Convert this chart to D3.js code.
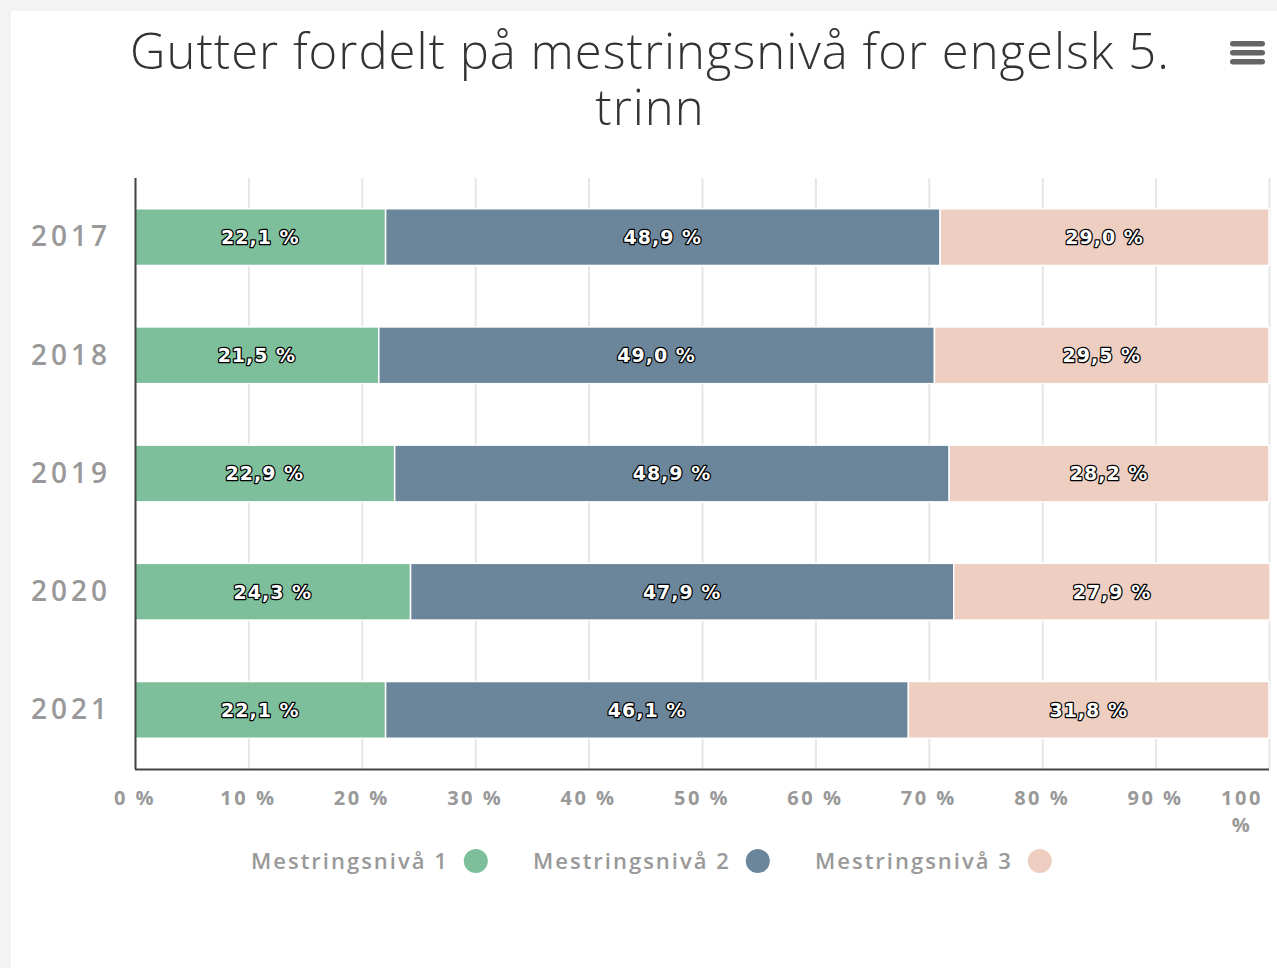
<!DOCTYPE html>
<html>
<head>
<meta charset="utf-8">
<script src="https://cdn.jsdelivr.net/npm/d3@7"></script>
<style>
  body { margin: 0; background: #f3f3f3; }
  #chart { position: absolute; left: 11px; top: 11px; width: 1266px; height: 957px; background: #fff; }
  svg { display: block; }
</style>
</head>
<body>
<div id="chart"></div>
<script>
// data
const years = ['2017', '2018', '2019', '2020', '2021']
const niva1 = [22.1, 21.5, 22.9, 24.3, 22.1]
const niva2 = [48.9, 49.0, 48.9, 47.9, 46.1]
const niva3 = [29.0, 29.5, 28.2, 27.9, 31.8]
const seriesNames = ['Mestringsnivå 1', 'Mestringsnivå 2', 'Mestringsnivå 3']
const seriesColors = ['#7dbe9b', '#6b869b', '#edcec1']
const xTicks = [0, 10, 20, 30, 40, 50, 60, 70, 80, 90, 100]
const title = ['Gutter fordelt på mestringsnivå for engelsk 5.', 'trinn']

const width = 1266
const height = 957
// offsets inside the white panel (panel starts at 11,11)
const margin = { top: 167, right: 8, bottom: 199, left: 124 }
const innerW = width - margin.left - margin.right
const innerH = height - margin.top - margin.bottom

const fmt = v => d3.format('.1f')(v).replace('.', ',') + ' %'

const svg = d3.select('#chart').append('svg')
  .attr('width', width)
  .attr('height', height)

// title, two lines
title.forEach((line, i) => {
  svg.append('text')
    .attr('x', 639)
    .attr('y', 58 + i * 56)
    .attr('text-anchor', 'middle')
    .style('font-family', 'Open Sans, sans-serif')
    .style('font-weight', '300')
    .style('font-size', '49px')
    .style('letter-spacing', '1px')
    .style('fill', '#333')
    .text(line)
})

// hamburger menu
const menu = svg.append('g').attr('transform', 'translate(1219,30)')
;[0, 9, 18].forEach(y => {
  menu.append('rect')
    .attr('x', 0).attr('y', y)
    .attr('width', 35).attr('height', 5.5)
    .attr('rx', 2.75)
    .attr('fill', '#666')
})

const g = svg.append('g').attr('transform', `translate(${margin.left},${margin.top})`)

const x = d3.scaleLinear().domain([0, 100]).range([0, innerW])
const y = d3.scaleBand().domain(years).range([0, innerH]).paddingInner(0.52).paddingOuter(0.26)

// grid lines
g.selectAll('.grid')
  .data(xTicks)
  .enter()
  .append('line')
  .attr('class', 'grid')
  .attr('x1', d => x(d) + 0.5)
  .attr('x2', d => x(d) + 0.5)
  .attr('y1', 0)
  .attr('y2', innerH)
  .attr('stroke', '#e6e6e6')
  .attr('stroke-width', 2)

// stack the series
const rows = years.map((yr, i) => ({ year: yr, s0: niva1[i], s1: niva2[i], s2: niva3[i] }))
const stacked = d3.stack().keys(['s0', 's1', 's2'])(rows)

const layers = g.selectAll('.layer')
  .data(stacked)
  .enter()
  .append('g')
  .attr('class', 'layer')
  .attr('fill', (d, i) => seriesColors[i])

layers.selectAll('rect')
  .data(d => d)
  .enter()
  .append('rect')
  .attr('x', d => x(d[0]))
  .attr('y', d => y(d.data.year))
  .attr('width', d => x(d[1]) - x(d[0]))
  .attr('height', y.bandwidth())
  .attr('stroke', '#fff')
  .attr('stroke-width', 1.5)

// value labels
layers.selectAll('text')
  .data(d => d)
  .enter()
  .append('text')
  .attr('x', d => (x(d[0]) + x(d[1])) / 2)
  .attr('y', d => y(d.data.year) + y.bandwidth() / 2)
  .attr('dy', '0.36em')
  .attr('text-anchor', 'middle')
  .style('font-family', 'DejaVu Sans, sans-serif')
  .style('font-weight', 'bold')
  .style('font-size', '19px')
  .style('letter-spacing', '1px')
  .style('fill', '#fff')
  .style('stroke', '#000')
  .style('stroke-width', '2.5px')
  .style('stroke-linejoin', 'round')
  .style('paint-order', 'stroke')
  .text(d => fmt(d[1] - d[0]))

// axes lines
g.append('line')
  .attr('x1', 0.5).attr('x2', 0.5)
  .attr('y1', 0).attr('y2', innerH)
  .attr('stroke', '#444').attr('stroke-width', 2)
g.append('line')
  .attr('x1', 0).attr('x2', innerW)
  .attr('y1', innerH + 0.5).attr('y2', innerH + 0.5)
  .attr('stroke', '#444').attr('stroke-width', 2)

// category labels
g.selectAll('.ylab')
  .data(years)
  .enter()
  .append('text')
  .attr('class', 'ylab')
  .attr('x', -24)
  .attr('y', d => y(d) + y.bandwidth() / 2)
  .attr('dy', '0.33em')
  .attr('text-anchor', 'end')
  .style('font-family', 'Open Sans, sans-serif')
  .style('font-weight', '600')
  .style('font-size', '28px')
  .style('letter-spacing', '4px')
  .style('fill', '#999')
  .text(d => d)

// x tick labels, 100 % wraps
const xl = g.selectAll('.xlab')
  .data(xTicks)
  .enter()
  .append('text')
  .attr('class', 'xlab')
  .attr('text-anchor', 'middle')
  .attr('y', innerH + 36)
  .style('font-family', 'Open Sans, sans-serif')
  .style('font-weight', 'bold')
  .style('font-size', '20px')
  .style('letter-spacing', '2.5px')
  .style('fill', '#999')

xl.each(function (d) {
  const t = d3.select(this)
  const parts = d === 100 ? [d + '', '%'] : [d + ' %']
  parts.forEach((p, i) => {
    t.append('tspan')
      .attr('x', x(d) + (d === 100 ? -27 : 0))
      .attr('dy', i === 0 ? 0 : 27)
      .text(p)
  })
})

// legend
const legendX = [240, 522, 804]
const legend = svg.append('g').attr('transform', 'translate(0,850)')
seriesNames.forEach((name, i) => {
  const item = legend.append('g').attr('transform', `translate(${legendX[i]},0)`)
  const txt = item.append('text')
    .attr('x', 0)
    .attr('y', 8)
    .style('font-family', 'Open Sans, sans-serif')
    .style('font-weight', '600')
    .style('font-size', '22px')
    .style('letter-spacing', '2px')
    .style('fill', '#999')
    .text(name)
  const w = txt.node().getComputedTextLength()
  item.append('circle')
    .attr('cx', w + 27)
    .attr('cy', 0)
    .attr('r', 12)
    .attr('fill', seriesColors[i])
})
</script>
</body>
</html>
